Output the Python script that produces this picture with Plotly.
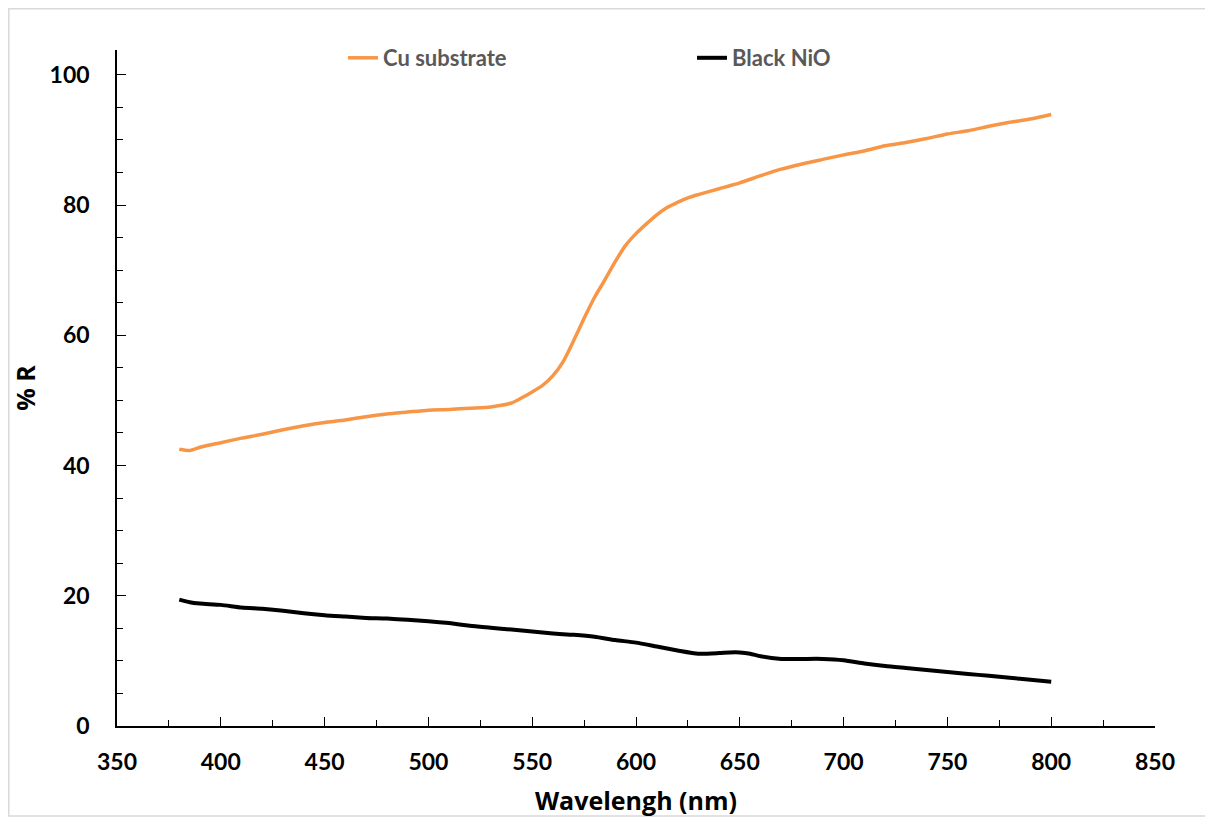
import plotly.graph_objects as go

wavelength_cu = [380, 385, 390, 400, 410, 420, 430, 440, 450, 460, 470, 480, 490, 500, 510, 520, 530,
                 540, 545, 550, 555, 560, 565, 570, 575, 580, 585, 590, 595, 600, 605, 610, 615, 620,
                 625, 630, 640, 650, 660, 670, 680, 690, 700, 710, 720, 730, 740, 750, 760, 770, 780,
                 790, 800]
r_cu = [42.5, 42.3, 42.8, 43.5, 44.2, 44.8, 45.5, 46.1, 46.6, 47.0, 47.5, 47.9, 48.2, 48.5, 48.6, 48.8, 49.0,
        49.6, 50.4, 51.3, 52.3, 53.8, 56.0, 59.2, 62.6, 65.8, 68.5, 71.3, 73.8, 75.6, 77.1, 78.5, 79.6, 80.4,
        81.1, 81.6, 82.5, 83.4, 84.5, 85.5, 86.3, 87.0, 87.7, 88.3, 89.1, 89.6, 90.2, 90.9, 91.4, 92.1, 92.7,
        93.2, 93.9]

wavelength_nio = [380, 385, 390, 400, 410, 420, 430, 440, 450, 460, 470, 480, 490, 500, 510, 520, 530, 540,
                  550, 560, 570, 580, 590, 600, 610, 620, 630, 640, 645, 650, 655, 660, 670, 680, 690, 700,
                  710, 720, 730, 740, 750, 760, 770, 780, 790, 800]
r_nio = [19.4, 19.0, 18.8, 18.6, 18.2, 18.0, 17.7, 17.3, 17.0, 16.8, 16.6, 16.5, 16.3, 16.1, 15.8, 15.4, 15.1, 14.8,
         14.5, 14.2, 14.0, 13.7, 13.2, 12.8, 12.2, 11.6, 11.1, 11.2, 11.3, 11.3, 11.1, 10.7, 10.3, 10.3, 10.3, 10.1,
         9.6, 9.2, 8.9, 8.6, 8.3, 8.0, 7.7, 7.4, 7.1, 6.8]

series_names = ["Cu substrate", "Black NiO"]
x_title = "Wavelengh (nm)"
y_title = "% R"

fig = go.Figure()
fig.add_trace(go.Scatter(x=wavelength_cu, y=r_cu, mode="lines", name=series_names[0],
                         line=dict(color="#F79646", width=3.5, shape="spline", smoothing=0.6)))
fig.add_trace(go.Scatter(x=wavelength_nio, y=r_nio, mode="lines", name=series_names[1],
                         line=dict(color="#000000", width=4, shape="spline", smoothing=0.6)))

# page body has an 8px margin; figure coordinates = screen - 8
W, H = 1213, 822
OFF = 8
ml, mr, mt, mb = 117 - OFF, 1213 - 1155 + OFF, 50 - OFF, 822 - 726 + OFF
pw, ph = W - ml - mr, H - mt - mb

def px_x(p):
    return (p - OFF - ml) / pw

def px_y(p):
    return (H - mb - (p - OFF)) / ph

fig.add_shape(type="rect", xref="paper", yref="paper",
              x0=px_x(8.8), x1=px_x(1209.5), y0=px_y(816), y1=px_y(8.8),
              line=dict(color="#D9D9D9", width=1.5), fillcolor="rgba(0,0,0,0)", layer="below")

lato = "Lato, 'Open Sans', sans-serif"
title_font = dict(family="'Open Sans', Lato, sans-serif", size=25, color="#000000", weight="bold")
tick_font = dict(family=lato, size=23, color="#000000", weight="bold")
fig.update_layout(
    width=W, height=H,
    margin=dict(l=ml, r=mr, t=mt, b=mb, autoexpand=False),
    paper_bgcolor="white", plot_bgcolor="white",
    showlegend=True,
    legend=dict(orientation="h", x=px_x(343), y=px_y(58), xanchor="left", yanchor="middle",
                entrywidth=304, entrywidthmode="pixels",
                font=dict(family=lato, size=22, color="#595959", weight="bold"),
                bgcolor="rgba(0,0,0,0)"),
    xaxis=dict(range=[350, 850], dtick=50, tick0=350, showgrid=False, zeroline=False,
               showline=True, linecolor="#000000", linewidth=1.5,
               ticks="inside", ticklen=9, tickwidth=1.2, tickcolor="#000000",
               minor=dict(dtick=25, ticks="inside", ticklen=6, tickwidth=1.2, tickcolor="#000000", showgrid=False),
               tickfont=tick_font, ticklabelstandoff=15,
               title=dict(text=x_title, font=title_font, standoff=18)),
    yaxis=dict(range=[0, 103.8], dtick=20, tick0=0, showgrid=False, zeroline=False,
               showline=True, linecolor="#000000", linewidth=1.5,
               ticks="inside", ticklen=9, tickwidth=1.2, tickcolor="#000000",
               minor=dict(dtick=5, ticks="inside", ticklen=6, tickwidth=1.2, tickcolor="#000000", showgrid=False),
               tickfont=tick_font, ticklabelstandoff=21,
               title=dict(text=y_title, font=title_font, standoff=18)),
)

fig.write_html("out.html")
